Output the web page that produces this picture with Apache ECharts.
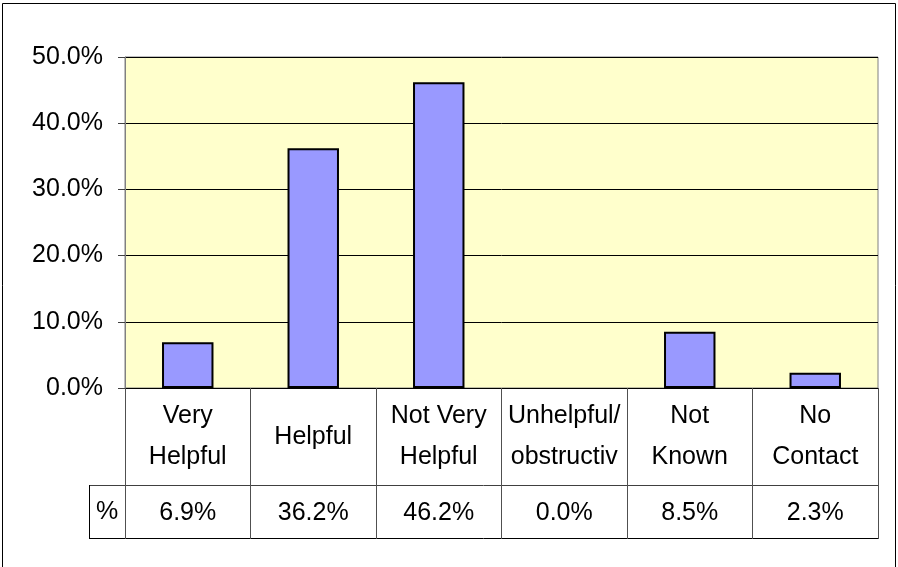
<!DOCTYPE html>
<html>
<head>
<meta charset="utf-8">
<script src="https://cdn.jsdelivr.net/npm/echarts@6/dist/echarts.min.js"></script>
<style>
	html, body { margin: 0; padding: 0; background: #fff; }
	#chart { width: 898px; height: 567px; }
</style>
</head>
<body>
<div id="chart"></div>
<script>
	// data
	var categories = ['Very\nHelpful', 'Helpful', 'Not Very\nHelpful', 'Unhelpful/\nobstructiv', 'Not\nKnown', 'No\nContact']
	var percents = [6.9, 36.2, 46.2, 0.0, 8.5, 2.3]
	var yTicks = [0, 10, 20, 30, 40, 50]

	var font = '"Liberation Sans", Arial, sans-serif'
	var fontSize = 25
	var chart = echarts.init(document.getElementById('chart'), null, { renderer: 'canvas' })

	var option = {
		animation: false,
		textStyle: { fontFamily: font },
		grid: {
			left: 125,
			right: 20,
			top: 57,
			bottom: 179,
			show: true,
			backgroundColor: '#FFFFCC',
			borderColor: '#808080',
			borderWidth: 1
		},
		xAxis: [
			{
				type: 'category',
				data: categories,
				position: 'bottom',
				axisLine: { show: true, lineStyle: { color: '#000', width: 1 } },
				axisTick: {
					show: true,
					inside: false,
					length: 151,
					lineStyle: { color: '#505050', width: 1 }
				},
				axisLabel: {
					color: '#000',
					fontSize: fontSize,
					fontFamily: font,
					lineHeight: 41,
					margin: 49,
					verticalAlign: 'middle',
					interval: 0
				}
			},
			{
				type: 'category',
				data: categories,
				position: 'bottom',
				offset: 98,
				axisLine: { show: false },
				axisTick: { show: false },
				axisLabel: {
					color: '#000',
					fontSize: fontSize,
					fontFamily: font,
					margin: 27,
					verticalAlign: 'middle',
					interval: 0,
					formatter: function (v, i) {
						return percents[i].toFixed(1) + '%'
					}
				}
			}
		],
		yAxis: {
			type: 'value',
			min: yTicks[0],
			max: yTicks[yTicks.length - 1],
			interval: 10,
			axisLine: { show: true, lineStyle: { color: '#808080' } },
			axisTick: { show: true, length: 7, lineStyle: { color: '#404040' } },
			splitLine: { show: true, lineStyle: { color: '#000', width: 1 } },
			axisLabel: {
				color: '#000',
				fontSize: fontSize,
				fontFamily: font,
				margin: 22,
				formatter: function (v) {
					return v.toFixed(1) + '%'
				}
			}
		},
		series: [
			{
				type: 'bar',
				data: percents.map(function (v) {
					return v > 0 ? v : { value: v, itemStyle: { borderWidth: 0 } }
				}),
				barWidth: '41%',
				itemStyle: {
					color: '#9999FF',
					borderColor: '#000',
					borderWidth: 2
				}
			}
		],
		graphic: [
			// outer chart frame
			{ type: 'rect', shape: { x: 2.5, y: 3.5, width: 893, height: 570 }, style: { fill: null, stroke: '#000', lineWidth: 1 }, silent: true },
			// data table lines
			{ type: 'line', shape: { x1: 89, y1: 485.5, x2: 878, y2: 485.5 }, style: { stroke: '#404040', lineWidth: 1 } },
			{ type: 'line', shape: { x1: 89, y1: 538.5, x2: 878, y2: 538.5 }, style: { stroke: '#000', lineWidth: 1 } },
			{ type: 'line', shape: { x1: 89.5, y1: 485, x2: 89.5, y2: 539 }, style: { stroke: '#000', lineWidth: 1 } },
			{ type: 'text', x: 107, y: 512, style: { text: '%', fill: '#000', font: fontSize + 'px ' + font, align: 'center', verticalAlign: 'middle' } }
		]
	}
	chart.setOption(option)
</script>
</body>
</html>
